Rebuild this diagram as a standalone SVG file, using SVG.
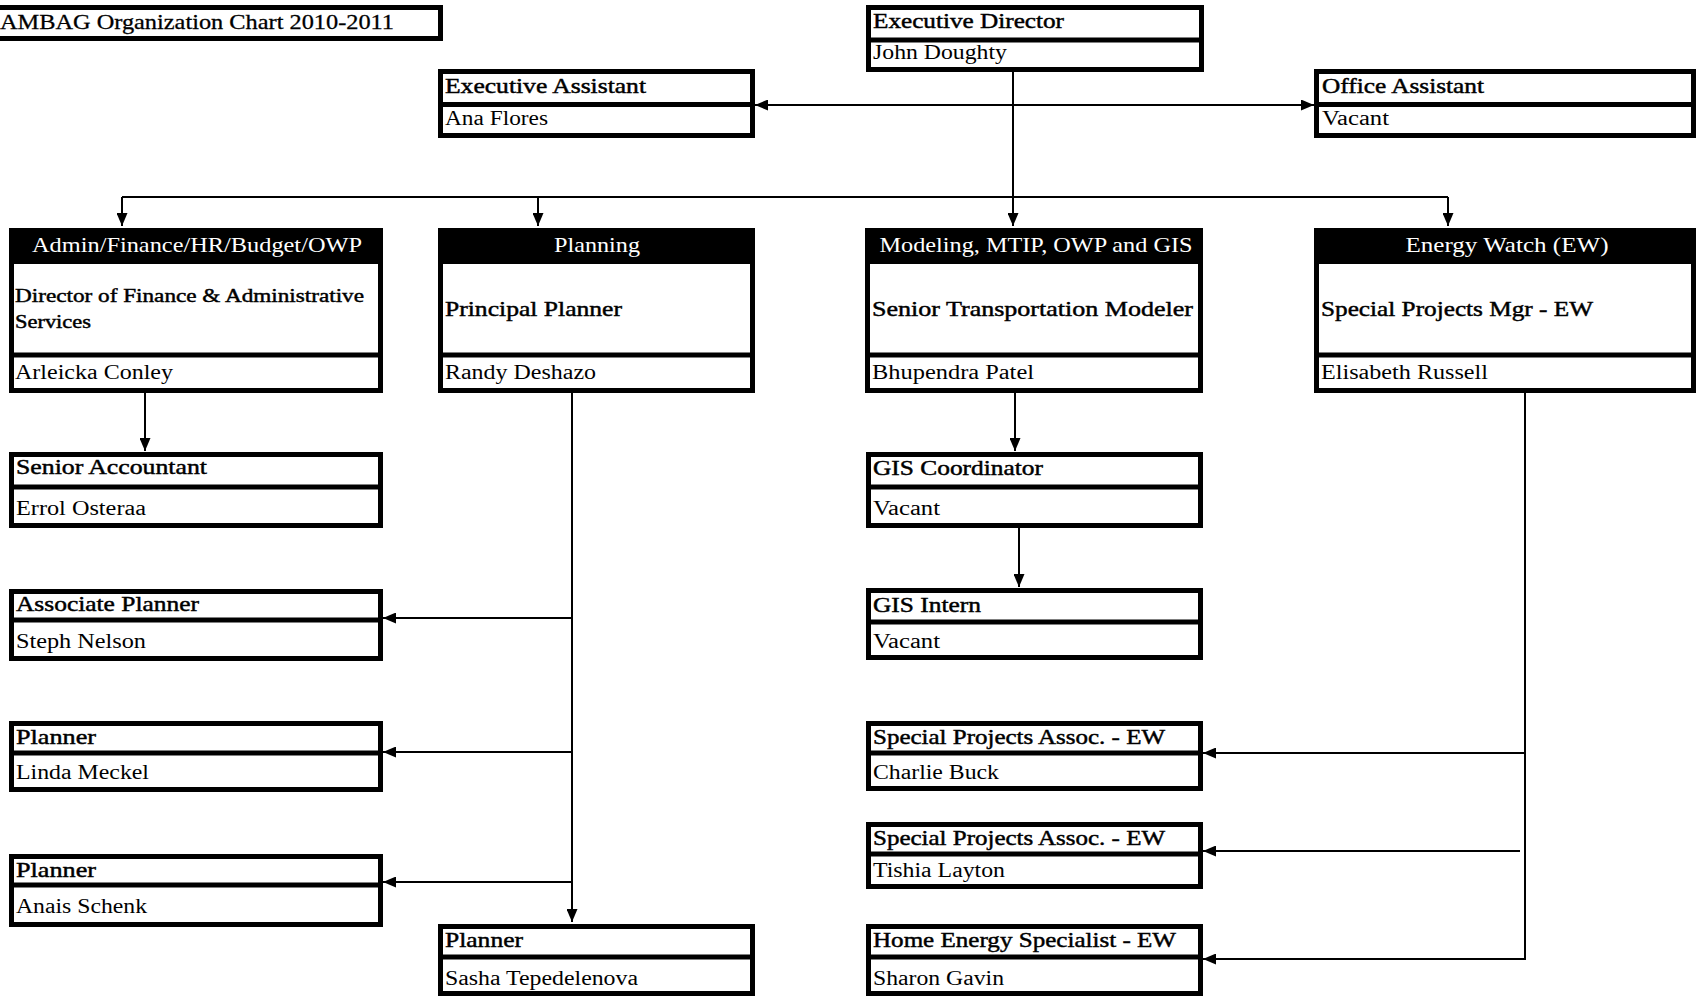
<svg xmlns="http://www.w3.org/2000/svg" width="1696" height="997" viewBox="0 0 1696 997">
<style>
.bx{fill:#fff;stroke:#000;stroke-width:5}
.dv{stroke:#000;stroke-width:5}
.hd{fill:#000}
text{font-family:"Liberation Serif","Times New Roman",serif;fill:#000}
.t{font-size:21px;stroke:#000;stroke-width:0.45px}
.n{font-size:20px}
.h{font-size:21px;fill:#fff;text-anchor:middle}
.c{fill:none;stroke:#000;stroke-width:2}
</style>
<defs>
<marker id="ar" viewBox="0 0 13 11" refX="13" refY="5.5" markerWidth="13" markerHeight="11" markerUnits="userSpaceOnUse" orient="auto-start-reverse">
<path d="M0,0 L13,5.5 L0,11 z" fill="#000"/>
</marker>
</defs>
<rect width="1696" height="997" fill="#fff"/>

<g id="connectors">
<path class="c" d="M1013,72 V226" marker-end="url(#ar)"/>
<path class="c" d="M755,105 H1314" marker-start="url(#ar)" marker-end="url(#ar)"/>
<path class="c" d="M122,197 H1448"/>
<path class="c" d="M122,197 V226" marker-end="url(#ar)"/>
<path class="c" d="M538,197 V226" marker-end="url(#ar)"/>
<path class="c" d="M1448,197 V226" marker-end="url(#ar)"/>
<path class="c" d="M145,393 V451" marker-end="url(#ar)"/>
<path class="c" d="M572,393 V922" marker-end="url(#ar)"/>
<path class="c" d="M572,618 H383" marker-end="url(#ar)"/>
<path class="c" d="M572,752 H383" marker-end="url(#ar)"/>
<path class="c" d="M572,882 H383" marker-end="url(#ar)"/>
<path class="c" d="M1015,393 V451" marker-end="url(#ar)"/>
<path class="c" d="M1019,528 V587" marker-end="url(#ar)"/>
<path class="c" d="M1525,393 V960"/>
<path class="c" d="M1525,753 H1203" marker-end="url(#ar)"/>
<path class="c" d="M1520,851 H1203" marker-end="url(#ar)"/>
<path class="c" d="M1525,959 H1203" marker-end="url(#ar)"/>
</g>

<g id="title">
<rect class="bx" x="-7.5" y="7.5" width="448" height="31"/>
<text class="t" x="0" y="29" style="font-size:22px;stroke-width:0.3px" textLength="394" lengthAdjust="spacingAndGlyphs">AMBAG Organization Chart 2010-2011</text>
</g>

<g id="exec-director">
<rect class="bx" x="868.5" y="7.5" width="333" height="62"/>
<line class="dv" x1="866" y1="40" x2="1204" y2="40"/>
<text class="t" x="873" y="28" textLength="191" lengthAdjust="spacingAndGlyphs">Executive Director</text>
<text class="n" x="873" y="59" textLength="134" lengthAdjust="spacingAndGlyphs">John Doughty</text>
</g>

<g id="exec-assistant">
<rect class="bx" x="440.5" y="71.5" width="312" height="64"/>
<line class="dv" x1="438" y1="104.5" x2="755" y2="104.5"/>
<text class="t" x="445" y="93" textLength="201" lengthAdjust="spacingAndGlyphs">Executive Assistant</text>
<text class="n" x="445" y="125" textLength="103" lengthAdjust="spacingAndGlyphs">Ana Flores</text>
</g>

<g id="office-assistant">
<rect class="bx" x="1316.5" y="71.5" width="377" height="64"/>
<line class="dv" x1="1314" y1="104.5" x2="1696" y2="104.5"/>
<text class="t" x="1322" y="93" textLength="162" lengthAdjust="spacingAndGlyphs">Office Assistant</text>
<text class="n" x="1322" y="125" textLength="67" lengthAdjust="spacingAndGlyphs">Vacant</text>
</g>

<g id="admin">
<rect class="bx" x="11.5" y="230.5" width="369" height="160"/>
<rect class="hd" x="9" y="228" width="374" height="36"/>
<line class="dv" x1="9" y1="355" x2="383" y2="355"/>
<text class="h" x="197" y="252" textLength="330" lengthAdjust="spacingAndGlyphs">Admin/Finance/HR/Budget/OWP</text>
<text class="t" x="15" y="302" style="font-size:19px" textLength="349" lengthAdjust="spacingAndGlyphs">Director of Finance &amp; Administrative</text>
<text class="t" x="15" y="328" style="font-size:19px" textLength="76" lengthAdjust="spacingAndGlyphs">Services</text>
<text class="n" x="15" y="379" textLength="158" lengthAdjust="spacingAndGlyphs">Arleicka Conley</text>
</g>

<g id="planning">
<rect class="bx" x="440.5" y="230.5" width="312" height="160"/>
<rect class="hd" x="438" y="228" width="317" height="36"/>
<line class="dv" x1="438" y1="355" x2="755" y2="355"/>
<text class="h" x="597" y="252" textLength="86" lengthAdjust="spacingAndGlyphs">Planning</text>
<text class="t" x="445" y="316" textLength="177" lengthAdjust="spacingAndGlyphs">Principal Planner</text>
<text class="n" x="445" y="379" textLength="151" lengthAdjust="spacingAndGlyphs">Randy Deshazo</text>
</g>

<g id="modeling">
<rect class="bx" x="867.5" y="230.5" width="333" height="160"/>
<rect class="hd" x="865" y="228" width="338" height="36"/>
<line class="dv" x1="865" y1="355" x2="1203" y2="355"/>
<text class="h" x="1036" y="252" textLength="313" lengthAdjust="spacingAndGlyphs">Modeling, MTIP, OWP and GIS</text>
<text class="t" x="872" y="316" textLength="321" lengthAdjust="spacingAndGlyphs">Senior Transportation Modeler</text>
<text class="n" x="872" y="379" textLength="162" lengthAdjust="spacingAndGlyphs">Bhupendra Patel</text>
</g>

<g id="energy-watch">
<rect class="bx" x="1316.5" y="230.5" width="377" height="160"/>
<rect class="hd" x="1314" y="228" width="382" height="36"/>
<line class="dv" x1="1314" y1="355" x2="1696" y2="355"/>
<text class="h" x="1507" y="252" textLength="203" lengthAdjust="spacingAndGlyphs">Energy Watch (EW)</text>
<text class="t" x="1321" y="316" textLength="272" lengthAdjust="spacingAndGlyphs">Special Projects Mgr - EW</text>
<text class="n" x="1321" y="379" textLength="167" lengthAdjust="spacingAndGlyphs">Elisabeth Russell</text>
</g>

<g id="senior-accountant">
<rect class="bx" x="11.5" y="454.5" width="369" height="71"/>
<line class="dv" x1="9" y1="487" x2="383" y2="487"/>
<text class="t" x="16" y="474" textLength="191" lengthAdjust="spacingAndGlyphs">Senior Accountant</text>
<text class="n" x="16" y="515" textLength="130" lengthAdjust="spacingAndGlyphs">Errol Osteraa</text>
</g>

<g id="associate-planner">
<rect class="bx" x="11.5" y="591.5" width="369" height="67"/>
<line class="dv" x1="9" y1="620" x2="383" y2="620"/>
<text class="t" x="16" y="611" textLength="183" lengthAdjust="spacingAndGlyphs">Associate Planner</text>
<text class="n" x="16" y="648" textLength="130" lengthAdjust="spacingAndGlyphs">Steph Nelson</text>
</g>

<g id="planner-meckel">
<rect class="bx" x="11.5" y="723.5" width="369" height="66"/>
<line class="dv" x1="9" y1="753" x2="383" y2="753"/>
<text class="t" x="16" y="744" textLength="80" lengthAdjust="spacingAndGlyphs">Planner</text>
<text class="n" x="16" y="779" textLength="133" lengthAdjust="spacingAndGlyphs">Linda Meckel</text>
</g>

<g id="planner-schenk">
<rect class="bx" x="11.5" y="856.5" width="369" height="68"/>
<line class="dv" x1="9" y1="885" x2="383" y2="885"/>
<text class="t" x="16" y="877" textLength="80" lengthAdjust="spacingAndGlyphs">Planner</text>
<text class="n" x="16" y="913" textLength="131" lengthAdjust="spacingAndGlyphs">Anais Schenk</text>
</g>

<g id="planner-tepedelenova">
<rect class="bx" x="440.5" y="926.5" width="312" height="67"/>
<line class="dv" x1="438" y1="957" x2="755" y2="957"/>
<text class="t" x="445" y="947" textLength="78" lengthAdjust="spacingAndGlyphs">Planner</text>
<text class="n" x="445" y="985" textLength="193" lengthAdjust="spacingAndGlyphs">Sasha Tepedelenova</text>
</g>

<g id="gis-coordinator">
<rect class="bx" x="868.5" y="454.5" width="332" height="71"/>
<line class="dv" x1="866" y1="487" x2="1203" y2="487"/>
<text class="t" x="873" y="475" textLength="170" lengthAdjust="spacingAndGlyphs">GIS Coordinator</text>
<text class="n" x="873" y="515" textLength="67" lengthAdjust="spacingAndGlyphs">Vacant</text>
</g>

<g id="gis-intern">
<rect class="bx" x="868.5" y="590.5" width="332" height="67"/>
<line class="dv" x1="866" y1="622" x2="1203" y2="622"/>
<text class="t" x="873" y="612" textLength="108" lengthAdjust="spacingAndGlyphs">GIS Intern</text>
<text class="n" x="873" y="648" textLength="67" lengthAdjust="spacingAndGlyphs">Vacant</text>
</g>

<g id="spa-buck">
<rect class="bx" x="868.5" y="723.5" width="332" height="65"/>
<line class="dv" x1="866" y1="753" x2="1203" y2="753"/>
<text class="t" x="873" y="744" textLength="292" lengthAdjust="spacingAndGlyphs">Special Projects Assoc. - EW</text>
<text class="n" x="873" y="779" textLength="126" lengthAdjust="spacingAndGlyphs">Charlie Buck</text>
</g>

<g id="spa-layton">
<rect class="bx" x="868.5" y="824.5" width="332" height="62"/>
<line class="dv" x1="866" y1="854" x2="1203" y2="854"/>
<text class="t" x="873" y="845" textLength="292" lengthAdjust="spacingAndGlyphs">Special Projects Assoc. - EW</text>
<text class="n" x="873" y="877" textLength="132" lengthAdjust="spacingAndGlyphs">Tishia Layton</text>
</g>

<g id="home-energy">
<rect class="bx" x="868.5" y="926.5" width="332" height="67"/>
<line class="dv" x1="866" y1="957" x2="1203" y2="957"/>
<text class="t" x="873" y="947" textLength="303" lengthAdjust="spacingAndGlyphs">Home Energy Specialist - EW</text>
<text class="n" x="873" y="985" textLength="131" lengthAdjust="spacingAndGlyphs">Sharon Gavin</text>
</g>
</svg>
